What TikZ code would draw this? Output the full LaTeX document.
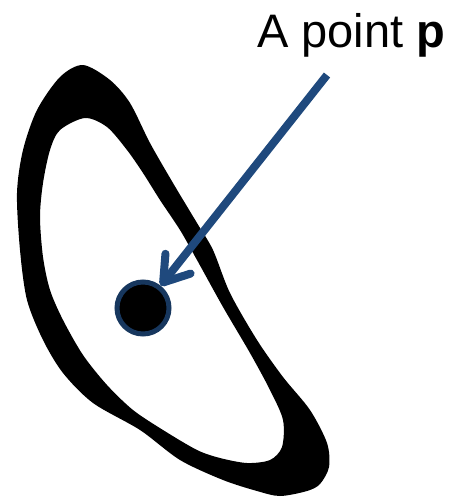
\documentclass[tikz,border=0pt]{standalone}
\usepackage{fontspec}
\setmainfont{Liberation Sans}
\usetikzlibrary{arrows.meta}
\definecolor{arrowblue}{HTML}{1F497D}
\definecolor{dotblue}{HTML}{17375E}
\tikzset{
  ring/.style={fill=black, even odd rule},
  dot/.style={circle, fill=black, draw=dotblue, line width=5pt, minimum size=52pt, inner sep=0pt},
  pointer/.style={draw=arrowblue, line width=8pt, -{Straight Barb[length=24pt, width=32pt, round]}},
  label/.style={font=\fontsize{47}{54}\selectfont, inner sep=0pt, anchor=base west}
}
\begin{document}
\begin{tikzpicture}[x=1pt, y=-1pt]
\useasboundingbox (0,0) rectangle (450,498);
% loop stroke
\path[ring]
  plot[smooth cycle, tension=0.5] coordinates {
    (83,65) (110,80) (130,103) (150,143) (173,183) (197,223) (213,250)
    (230,293) (257,340) (283,377) (310,410) (327,443) (329,467) (320,484)
    (307,491) (280,496) (257,491) (223,480) (180,460) (140,430) (93,403)
    (63,373) (43,340) (27,300) (20,250) (17,193) (23,150) (37,110) (60,77)}
  plot[smooth cycle, tension=0.5] coordinates {
    (85,118) (107,127) (127,150) (143,173) (160,200) (180,230) (197,260)
    (223,307) (250,353) (270,390) (283,420) (282,447) (270,460) (247,463)
    (220,458) (197,450) (163,430) (133,410) (107,385) (83,355) (63,320)
    (50,290) (43,257) (40,217) (43,183) (50,150) (60,130)};
\node[dot] (p) at (143,308) {};
\coordinate (s) at (327,75);
\draw[pointer] (s) -- (p);
\node[label] (t) at (257,47) {A point \textbf{p}};
\end{tikzpicture}
\end{document}
